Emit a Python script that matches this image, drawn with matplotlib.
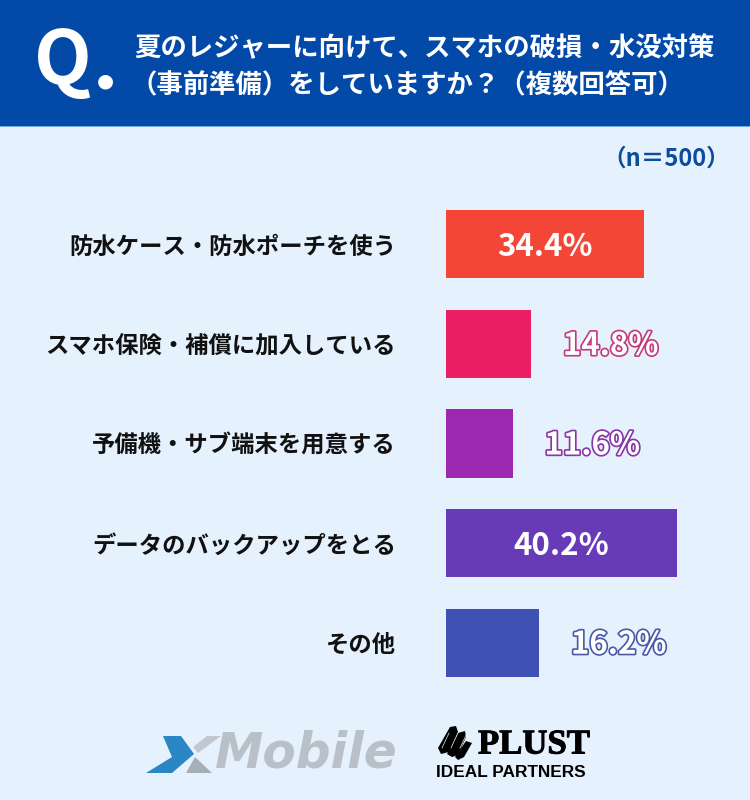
import matplotlib
matplotlib.use("Agg")
import matplotlib.pyplot as plt
import matplotlib.patheffects as pe
from matplotlib.patches import Rectangle, Polygon

plt.rcParams['font.family'] = ['Noto Sans CJK JP', 'DejaVu Sans']

categories = ['防水ケース・防水ポーチを使う', 'スマホ保険・補償に加入している', '予備機・サブ端末を用意する',
              'データのバックアップをとる', 'その他']
values = [34.4, 14.8, 11.6, 40.2, 16.2]
colors = ['#F44637', '#E91E63', '#9C27B0', '#673AB7', '#3F51B5']
strokes = ['#F44637', '#C43A7C', '#8A35A6', '#673AB7', '#4A5AA6']
title_lines = ['夏のレジャーに向けて、スマホの破損・水没対策', '（事前準備）をしていますか？（複数回答可）']
sample = '（n＝500）'

W, H = 750, 800
BG = '#E5F1FD'
HEADER = '#034AA8'
fig = plt.figure(figsize=(W / 100, H / 100), dpi=100, facecolor=BG)

# pixel-space overlay for the header and logos
ov = fig.add_axes([0, 0, 1, 1], zorder=0)
ov.set_xlim(0, W)
ov.set_ylim(H, 0)
ov.axis('off')
ov.add_patch(Rectangle((0, 0), W, 126, color=HEADER, lw=0))
ov.add_patch(Rectangle((0, 126), W, 1.2, color='#6FA8DC', lw=0))
ov.text(63, 62, 'Q', color='white', fontsize=54, fontweight='bold', ha='center', va='center')
ov.text(105, 80.5, '●', color='white', fontsize=14, ha='center', va='center', family=['DejaVu Sans'])
ov.text(424.5, 48.5, title_lines[0], color='white', fontsize=19, fontweight='bold', ha='center', va='center')
ov.text(407, 84.5, title_lines[1], color='white', fontsize=19, fontweight='bold', ha='center', va='center')
ov.text(666, 159, sample, color='#0B4C9C', fontsize=17, fontweight='bold', ha='center', va='center')

# XMobile logo
ov.add_patch(Polygon([[146, 773], [172, 757], [163, 736], [181, 736], [194, 754], [172, 773]],
                     closed=True, color='#2A86C4', lw=0))
ov.add_patch(Polygon([[193, 747], [207, 736], [221, 736], [198, 753]], closed=True, color='#C2C8CE', lw=0))
ov.add_patch(Polygon([[195, 757], [212, 773], [186, 773]], closed=True, color='#A6AEB6', lw=0))
ov.text(306, 754, 'Mobile', color='#B9C0C8', fontsize=35, fontweight='bold', style='italic',
        ha='center', va='center', family=['DejaVu Sans'])

# PLUST logo
for pts in ([[438, 748], [450, 727], [456, 726], [458, 732], [449, 752], [441, 754]],
            [[447, 754], [458, 733], [465, 731], [466, 737], [458, 755], [452, 757]],
            [[455, 757], [466, 741], [472, 743], [464, 757], [458, 760]]):
    ov.add_patch(Polygon(pts, closed=True, color='black', lw=0))
for x0 in (445, 454, 463):
    ov.plot([x0 - 3, x0 + 4], [748, 733], color=BG, lw=0.5)
t = ov.text(478, 745, 'PLUST', color='black', fontsize=25, fontweight='bold', ha='left', va='center',
            family=['Liberation Serif'])
t.set_path_effects([pe.Stroke(linewidth=0.7, foreground='black'), pe.Normal()])
ov.text(436.5, 772.5, 'IDEAL PARTNERS', color='black', fontsize=12.4, fontweight='bold', ha='left', va='center',
        family=['Liberation Sans'])

# bar chart
ax_top, ax_bot = 194.5, 692.5
ax = fig.add_axes([446 / W, 1 - ax_bot / H, (W - 446) / W, (ax_bot - ax_top) / H], zorder=1)
ax.patch.set_alpha(0)
ypos = list(range(len(categories)))
ax.barh(ypos, values, height=0.685, color=colors)
ax.set_xlim(0, (W - 446) / 5.756)
ax.set_ylim(len(categories) - 0.5, -0.5)
ax.set_yticks(ypos, categories, fontsize=16.8, fontweight='bold', color='#111111')
ax.tick_params(axis='y', length=0, pad=36)
ax.set_xticks([])
for s in ax.spines.values():
    s.set_visible(False)

for y, v, sc in zip(ypos, values, strokes):
    label = f'{v:.1f}%'
    if v > 30:
        ax.text(v / 2, y + 0.03, label, color='white', fontsize=22.5, fontweight='bold', ha='center', va='center')
    else:
        t = ax.text(v + 5.5, y + 0.02, label, color='white', fontsize=22.5, fontweight='bold', ha='left', va='center')
        t.set_path_effects([pe.Stroke(linewidth=2.4, foreground=sc), pe.Normal()])

fig.savefig('out.png', dpi=100, facecolor=BG)
